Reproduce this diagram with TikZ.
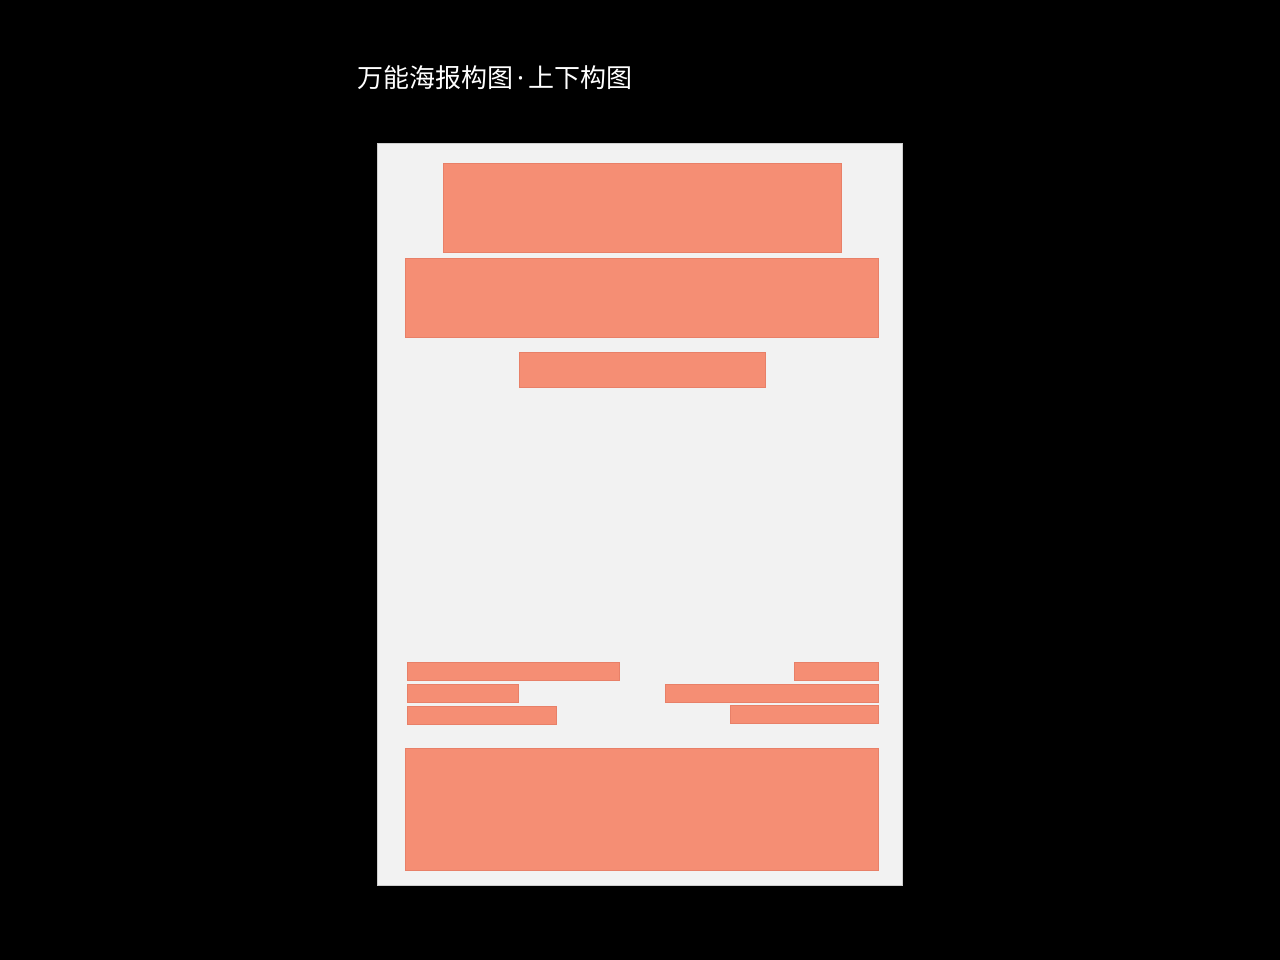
\documentclass[tikz,border=0pt]{standalone}
\usepackage{fontspec}
\newfontfamily\cjk{Noto Sans CJK SC}
\newfontfamily\latinsans{Noto Sans}
\definecolor{salmon}{RGB}{245,142,116}
\definecolor{salmonline}{RGB}{232,128,104}
\definecolor{paper}{RGB}{242,242,242}
\tikzset{
  blk/.style={fill=salmon, draw=salmonline, line width=0.6pt},
}
\begin{document}
\begin{tikzpicture}[x=1pt,y=-1pt]
\fill[black] (0,0) rectangle (1280,960);
\useasboundingbox (0,0) rectangle (1280,960);
\node[anchor=base west, inner sep=0pt, text=white, font=\cjk\fontsize{26}{30}\selectfont] (title) at (357,88) {万能海报构图\hspace{4pt}{\latinsans·}\hspace{4.5pt}上下构图};
\path[fill=paper, draw=paper!85!black, line width=0.5pt] (377.5,143.5) rectangle (902.5,885) coordinate (poster);
\path[blk] (443,163.5) rectangle (841,252) coordinate (head);
\path[blk] (405,258) rectangle (878,337) coordinate (main);
\path[blk] (519,352) rectangle (765,387) coordinate (sub);
\path[blk] (407,662) rectangle (619,680) coordinate (l1);
\path[blk] (407,684) rectangle (518,702) coordinate (l2);
\path[blk] (407,706) rectangle (556,724) coordinate (l3);
\path[blk] (794,662) rectangle (878,680) coordinate (r1);
\path[blk] (665,684) rectangle (878,702) coordinate (r2);
\path[blk] (730,705) rectangle (878,723) coordinate (r3);
\path[blk] (405,748) rectangle (878,870) coordinate (foot);
\end{tikzpicture}
\end{document}
